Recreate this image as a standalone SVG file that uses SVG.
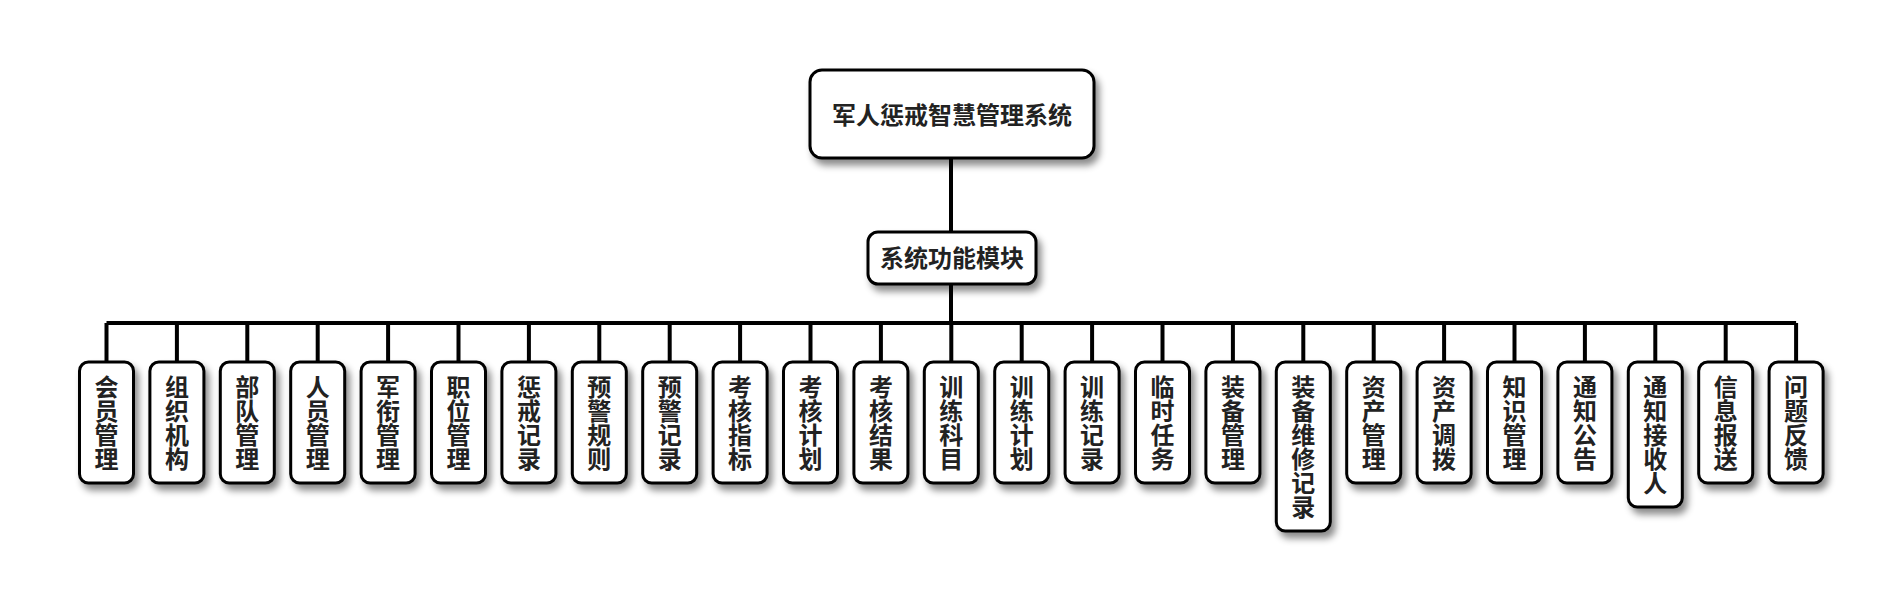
<svg xmlns="http://www.w3.org/2000/svg" width="1902" height="607" viewBox="0 0 1902 607">
<defs>
<filter id="sh" x="-30%" y="-30%" width="160%" height="160%">
<feDropShadow dx="4" dy="6" stdDeviation="3.5" flood-color="#000" flood-opacity="0.45"/>
</filter>
</defs>
<style>
.box{fill:#fff;stroke:#000;stroke-width:3;filter:url(#sh)}
.t{font-family:"Noto Sans CJK SC","Noto Sans",sans-serif;font-weight:bold;font-size:24px;fill:#222;text-anchor:middle}
.v{writing-mode:vertical-rl;text-orientation:upright}
.c{fill:none;stroke:#000;stroke-width:4}
</style>
<rect width="1902" height="607" fill="#fff"/>
<g id="connectors">
<path class="c" d="M951,158V232M951,284V323M106.5,323H1796.1"/>
<path class="c" d="M106.5,323V362M176.9,323V362M247.3,323V362M317.7,323V362M388.1,323V362M458.5,323V362M528.9,323V362M599.3,323V362M669.7,323V362M740.1,323V362M810.5,323V362M880.9,323V362M951.3,323V362M1021.7,323V362M1092.1,323V362M1162.5,323V362M1232.9,323V362M1303.3,323V362M1373.7,323V362M1444.1,323V362M1514.5,323V362M1584.9,323V362M1655.3,323V362M1725.7,323V362M1796.1,323V362"/>
</g>
<g id="root"><rect class="box" x="810" y="70" width="284" height="88" rx="12"/><text class="t" x="952" y="124">军人惩戒智慧管理系统</text></g>
<g id="modules"><rect class="box" x="868" y="232" width="168" height="52" rx="10"/><text class="t" x="952" y="267">系统功能模块</text></g>
<g id="n1"><rect class="box" x="79.5" y="362" width="54" height="121" rx="9"/><text class="t v" x="106.5" y="422.5">会员管理</text></g>
<g id="n2"><rect class="box" x="149.9" y="362" width="54" height="121" rx="9"/><text class="t v" x="176.9" y="422.5">组织机构</text></g>
<g id="n3"><rect class="box" x="220.3" y="362" width="54" height="121" rx="9"/><text class="t v" x="247.3" y="422.5">部队管理</text></g>
<g id="n4"><rect class="box" x="290.7" y="362" width="54" height="121" rx="9"/><text class="t v" x="317.7" y="422.5">人员管理</text></g>
<g id="n5"><rect class="box" x="361.1" y="362" width="54" height="121" rx="9"/><text class="t v" x="388.1" y="422.5">军衔管理</text></g>
<g id="n6"><rect class="box" x="431.5" y="362" width="54" height="121" rx="9"/><text class="t v" x="458.5" y="422.5">职位管理</text></g>
<g id="n7"><rect class="box" x="501.9" y="362" width="54" height="121" rx="9"/><text class="t v" x="528.9" y="422.5">惩戒记录</text></g>
<g id="n8"><rect class="box" x="572.3" y="362" width="54" height="121" rx="9"/><text class="t v" x="599.3" y="422.5">预警规则</text></g>
<g id="n9"><rect class="box" x="642.7" y="362" width="54" height="121" rx="9"/><text class="t v" x="669.7" y="422.5">预警记录</text></g>
<g id="n10"><rect class="box" x="713.1" y="362" width="54" height="121" rx="9"/><text class="t v" x="740.1" y="422.5">考核指标</text></g>
<g id="n11"><rect class="box" x="783.5" y="362" width="54" height="121" rx="9"/><text class="t v" x="810.5" y="422.5">考核计划</text></g>
<g id="n12"><rect class="box" x="853.9" y="362" width="54" height="121" rx="9"/><text class="t v" x="880.9" y="422.5">考核结果</text></g>
<g id="n13"><rect class="box" x="924.3" y="362" width="54" height="121" rx="9"/><text class="t v" x="951.3" y="422.5">训练科目</text></g>
<g id="n14"><rect class="box" x="994.7" y="362" width="54" height="121" rx="9"/><text class="t v" x="1021.7" y="422.5">训练计划</text></g>
<g id="n15"><rect class="box" x="1065.1" y="362" width="54" height="121" rx="9"/><text class="t v" x="1092.1" y="422.5">训练记录</text></g>
<g id="n16"><rect class="box" x="1135.5" y="362" width="54" height="121" rx="9"/><text class="t v" x="1162.5" y="422.5">临时任务</text></g>
<g id="n17"><rect class="box" x="1205.9" y="362" width="54" height="121" rx="9"/><text class="t v" x="1232.9" y="422.5">装备管理</text></g>
<g id="n18"><rect class="box" x="1276.3" y="362" width="54" height="169" rx="9"/><text class="t v" x="1303.3" y="446.5">装备维修记录</text></g>
<g id="n19"><rect class="box" x="1346.7" y="362" width="54" height="121" rx="9"/><text class="t v" x="1373.7" y="422.5">资产管理</text></g>
<g id="n20"><rect class="box" x="1417.1" y="362" width="54" height="121" rx="9"/><text class="t v" x="1444.1" y="422.5">资产调拨</text></g>
<g id="n21"><rect class="box" x="1487.5" y="362" width="54" height="121" rx="9"/><text class="t v" x="1514.5" y="422.5">知识管理</text></g>
<g id="n22"><rect class="box" x="1557.9" y="362" width="54" height="121" rx="9"/><text class="t v" x="1584.9" y="422.5">通知公告</text></g>
<g id="n23"><rect class="box" x="1628.3" y="362" width="54" height="145" rx="9"/><text class="t v" x="1655.3" y="434.5">通知接收人</text></g>
<g id="n24"><rect class="box" x="1698.7" y="362" width="54" height="121" rx="9"/><text class="t v" x="1725.7" y="422.5">信息报送</text></g>
<g id="n25"><rect class="box" x="1769.1" y="362" width="54" height="121" rx="9"/><text class="t v" x="1796.1" y="422.5">问题反馈</text></g>
</svg>
